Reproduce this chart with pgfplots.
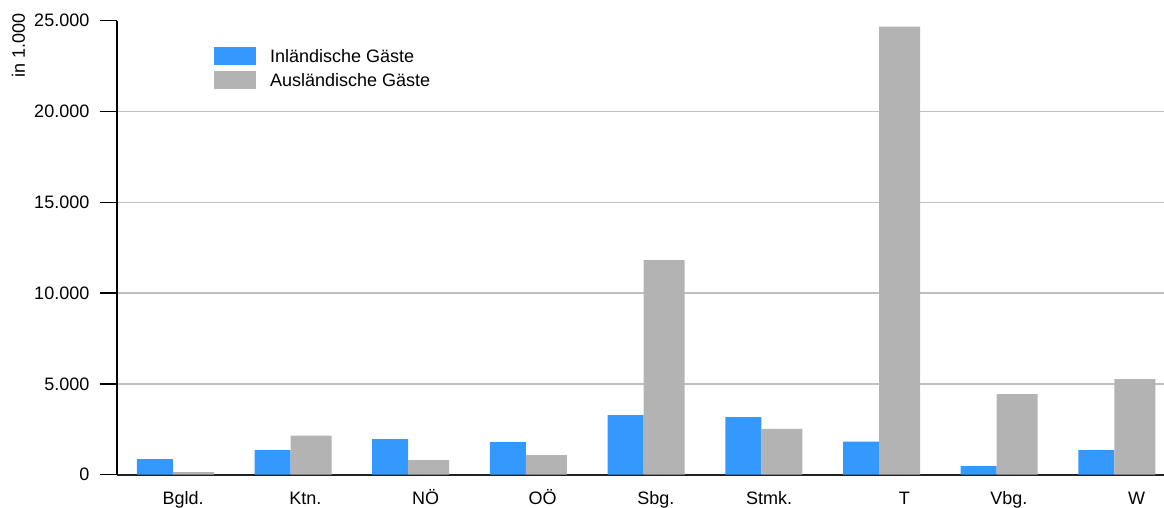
\documentclass[border=0pt]{standalone}
\usepackage{fontspec}
\setmainfont{Liberation Sans}
\usepackage{pgfplots}
\pgfplotsset{compat=1.18}
\definecolor{inl}{RGB}{51,153,255}
\definecolor{ausl}{RGB}{179,179,179}
\begin{document}
\fontsize{18bp}{21bp}\selectfont
\begin{tikzpicture}
\begin{axis}[
  at={(117bp,-474.7bp)}, anchor=south west,
  scale only axis, width=1059.3bp, height=454bp,
  xmin=-0.5, xmax=8.5, ymin=0, ymax=25000,
  ybar,
  axis lines=left, axis line style={-},
  x axis line style={draw=black!87, line width=2bp},
  y axis line style={black, line width=1.5bp},
  xtick={0,...,8}, xticklabels={Bgld.,Ktn.,NÖ,OÖ,Sbg.,Stmk.,T,Vbg.,W},
  ytick={0,5000,10000,15000,20000},
  scaled y ticks=false,
  extra y ticks={25000}, extra y tick style={grid=none},
  ymajorgrids, grid style={color=black!25, line width=1.5bp},
  tick align=outside, major tick length=17bp,
  xtick style={draw=none},
  ytick style={black, line width=1.5bp},
  ticklabel style={font=\fontsize{18bp}{21bp}\selectfont},
  yticklabel style={/pgf/number format/1000 sep={.}, /pgf/number format/assume math mode=true, inner sep=0pt, xshift=-10.5bp},
  xticklabel style={anchor=base east, inner sep=0pt, xshift=28bp, yshift=-13bp},
  legend image code/.code={\fill[#1] (0bp,-7.5bp) rectangle (42bp,10.5bp);},
  legend style={at={(0.0916,0.9414)}, anchor=north west, draw=none, fill=none,
    inner sep=0pt, outer sep=0pt, row sep=3bp, column sep=12bp,
    font=\fontsize{18bp}{21bp}\selectfont},
  legend cell align=left,
]
\addplot[fill=inl, draw=none, bar width=36bp, bar shift=-21bp] coordinates {
(0,864) (1,1360) (2,1966) (3,1800) (4,3287) (5,3177) (6,1817) (7,479) (8,1360)};
\addlegendentry{Inländische Gäste}
\addplot[fill=ausl, draw=none, bar width=41bp, bar shift=17.5bp] coordinates {
(0,149) (1,2148) (2,809) (3,1085) (4,11822) (5,2517) (6,24670) (7,4444) (8,5270)};
\addlegendentry{Ausländische Gäste}
\end{axis}
\node[rotate=90, anchor=east, inner sep=0pt, font=\fontsize{18bp}{21bp}\selectfont] at (18.5bp,-13.3bp) {in 1.000};
\pgfresetboundingbox
\path[use as bounding box] (0,0) rectangle (1164bp,-508bp);
\end{tikzpicture}
\end{document}
